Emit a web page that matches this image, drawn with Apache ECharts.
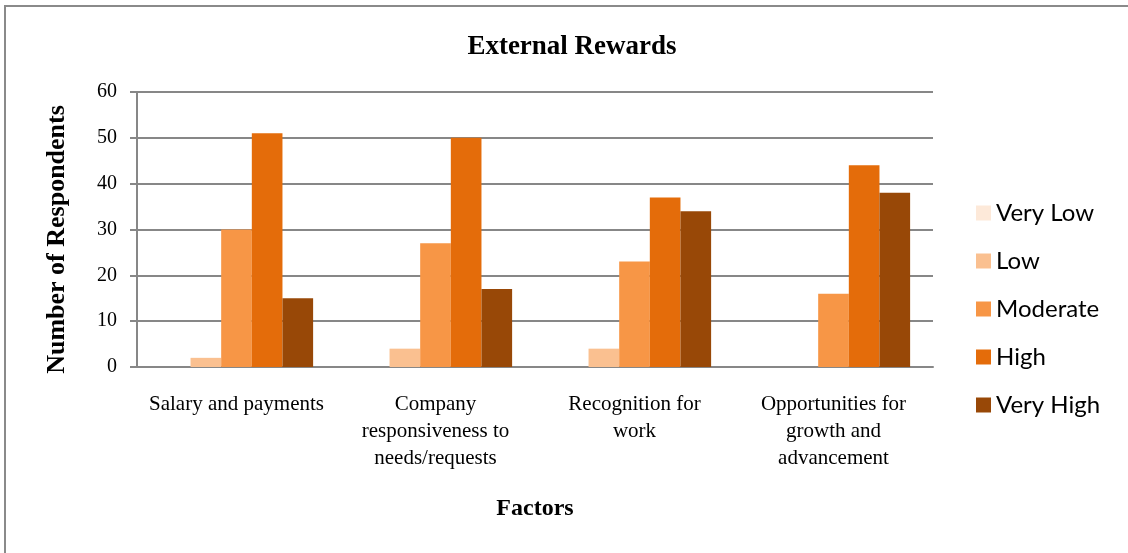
<!DOCTYPE html>
<html>
<head>
<meta charset="utf-8">
<script src="https://cdn.jsdelivr.net/npm/echarts@6/dist/echarts.min.js"></script>
<style>
  html, body { margin: 0; padding: 0; background: #fff; }
  #chart { width: 1128px; height: 553px; }
</style>
</head>
<body>
<div id="chart"></div>
<script>
// Survey: perceived importance of external rewards, by factor
const categories = [
  'Salary and payments',
  'Company\nresponsiveness to\nneeds/requests',
  'Recognition for\nwork',
  'Opportunities for\ngrowth and\nadvancement'
];
const seriesNames = ['Very Low', 'Low', 'Moderate', 'High', 'Very High'];
const veryLow  = [0, 0, 0, 0];
const low      = [2, 4, 4, 0];
const moderate = [30, 27, 23, 16];
const high     = [51, 50, 37, 44];
const veryHigh = [15, 17, 34, 38];
const yTicks = { min: 0, max: 60, interval: 10 };

const colors = ['#FDE9D9', '#FAC090', '#F79646', '#E46C0A', '#984807'];
const values = [veryLow, low, moderate, high, veryHigh];

const serif = '"Liberation Serif", "DejaVu Serif", serif';
const sans = 'Lato, "Noto Sans", sans-serif';

const chart = echarts.init(document.getElementById('chart'), null, { renderer: 'canvas' });

chart.setOption({
  animation: false,
  backgroundColor: '#ffffff',
  color: colors,
  title: {
    text: 'External Rewards',
    left: 567,
    textAlign: 'center',
    top: 29,
    textStyle: { fontFamily: serif, fontWeight: 'bold', fontSize: 27, color: '#000' }
  },
  legend: {
    orient: 'vertical',
    left: 976,
    top: 201,
    padding: 0,
    itemWidth: 15,
    itemHeight: 15,
    itemGap: 24,
    icon: 'rect',
    textStyle: { fontFamily: sans, fontSize: 24, lineHeight: 20, color: '#000' },
    data: seriesNames
  },
  grid: { left: 137, right: 195, top: 92, bottom: 186, containLabel: false },
  xAxis: {
    type: 'category',
    data: categories,
    axisLine: { lineStyle: { color: '#878787', width: 2 } },
    axisTick: { show: false },
    axisLabel: {
      interval: 0,
      margin: 24,
      fontFamily: serif,
      fontSize: 21,
      lineHeight: 27,
      color: '#000'
    },
    name: 'Factors',
    nameLocation: 'middle',
    nameGap: 130,
    nameTextStyle: { fontFamily: serif, fontWeight: 'bold', fontSize: 24, color: '#000' }
  },
  yAxis: {
    type: 'value',
    min: yTicks.min,
    max: yTicks.max,
    interval: yTicks.interval,
    axisLine: { show: true, lineStyle: { color: '#878787', width: 2 } },
    axisTick: { show: true, length: 7, lineStyle: { color: '#878787', width: 2 } },
    splitLine: { lineStyle: { color: '#878787', width: 2 } },
    axisLabel: { margin: 20, fontFamily: serif, fontSize: 20, color: '#000' },
    name: 'Number of Respondents',
    nameLocation: 'middle',
    nameGap: 67,
    nameRotate: 90,
    nameTextStyle: { fontFamily: serif, fontWeight: 'bold', fontSize: 26, color: '#000', padding: [0, 20, 0, 0] }
  },
  series: seriesNames.map((name, i) => ({
    name,
    type: 'bar',
    data: values[i],
    barGap: '0%',
    barCategoryGap: '23%',
    itemStyle: { color: colors[i] }
  })),
  graphic: [{
    type: 'rect',
    silent: true,
    shape: { x: 5, y: 6, width: 2000, height: 2000 },
    style: { fill: 'none', stroke: '#8a8a8a', lineWidth: 2 }
  }]
});
</script>
</body>
</html>
